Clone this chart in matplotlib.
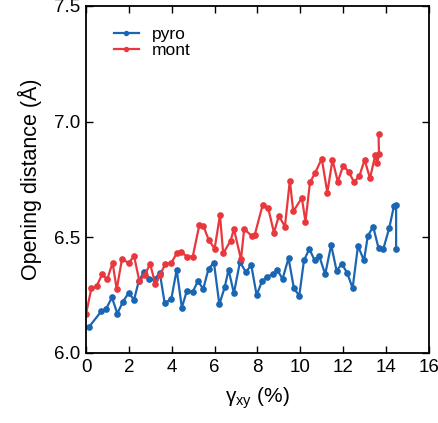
import matplotlib
matplotlib.use("Agg")
import matplotlib.pyplot as plt

plt.rcParams['font.family'] = ['Liberation Sans', 'DejaVu Sans']
plt.rcParams['mathtext.fontset'] = 'custom'
plt.rcParams['mathtext.rm'] = 'Liberation Sans'
plt.rcParams['mathtext.it'] = 'Liberation Sans:italic'

# Shear strain (%) and opening distance (Å) for each clay
pyro_strain = [0.15, 0.71, 0.93, 1.21, 1.46, 1.71, 1.99, 2.24, 2.46, 2.70,
               2.96, 3.20, 3.44, 3.67, 3.98, 4.23, 4.47, 4.71, 4.98, 5.22,
               5.47, 5.72, 5.97, 6.22, 6.47, 6.65, 6.90, 7.18, 7.46, 7.71,
               7.96, 8.21, 8.46, 8.71, 8.92, 9.17, 9.45, 9.70, 9.95, 10.17,
               10.42, 10.67, 10.88, 11.16, 11.44, 11.69, 11.94, 12.19, 12.44, 12.69,
               12.97, 13.15, 13.40, 13.65, 13.87, 14.15, 14.37, 14.47, 14.47]
pyro_open = [6.114, 6.18, 6.19, 6.24, 6.17, 6.22, 6.26, 6.23, 6.31, 6.35,
             6.318, 6.318, 6.347, 6.215, 6.234, 6.36, 6.196, 6.27, 6.265, 6.31,
             6.277, 6.365, 6.39, 6.21, 6.284, 6.36, 6.258, 6.393, 6.35, 6.38,
             6.25, 6.31, 6.33, 6.34, 6.36, 6.32, 6.41, 6.28, 6.247, 6.40,
             6.45, 6.40, 6.42, 6.34, 6.467, 6.356, 6.385, 6.345, 6.28, 6.463,
             6.40, 6.506, 6.546, 6.453, 6.449, 6.54, 6.636, 6.64, 6.45]

mont_strain = [0.0, 0.25, 0.50, 0.75, 0.99, 1.24, 1.43, 1.68, 1.99, 2.24,
               2.49, 2.74, 2.99, 3.23, 3.45, 3.70, 3.98, 4.23, 4.45, 4.72,
               4.98, 5.29, 5.47, 5.72, 6.00, 6.25, 6.40, 6.75, 6.90, 7.23,
               7.38, 7.73, 7.87, 8.24, 8.50, 8.77, 9.00, 9.28, 9.51, 9.67,
               10.07, 10.24, 10.45, 10.70, 11.00, 11.26, 11.50, 11.75, 12.00, 12.25,
               12.50, 12.75, 13.00, 13.25, 13.50, 13.59, 13.67, 13.65]
mont_open = [6.169, 6.28, 6.29, 6.34, 6.319, 6.39, 6.275, 6.408, 6.388, 6.42,
             6.31, 6.337, 6.385, 6.30, 6.337, 6.385, 6.39, 6.43, 6.435, 6.417,
             6.417, 6.554, 6.55, 6.49, 6.45, 6.596, 6.43, 6.486, 6.536, 6.405,
             6.536, 6.506, 6.51, 6.639, 6.626, 6.52, 6.593, 6.546, 6.745, 6.612,
             6.67, 6.568, 6.737, 6.78, 6.84, 6.693, 6.835, 6.74, 6.81, 6.784,
             6.74, 6.763, 6.835, 6.755, 6.856, 6.82, 6.862, 6.947]

x_ticks = [0, 2, 4, 6, 8, 10, 12, 14, 16]
y_ticks = [6.0, 6.5, 7.0, 7.5]

blue = '#1a66b3'
red = '#e8383d'

fig = plt.figure(figsize=(4.39, 4.23), dpi=100)
ax = fig.add_axes([0.196, 0.1655, 0.781, 0.8205])

ax.plot(pyro_strain, pyro_open, '-o', color=blue, lw=1.6, ms=3.8, label='pyro')
ax.plot(mont_strain, mont_open, '-o', color=red, lw=1.6, ms=3.8, label='mont')

ax.set_xlim(0, 16)
ax.set_ylim(6.0, 7.5)
ax.set_xticks(x_ticks)
ax.set_yticks(y_ticks)
ax.set_yticklabels([f'{v:.1f}' for v in y_ticks])
ax.tick_params(direction='in', top=True, right=True, length=5, width=1,
               labelsize=13.5, pad=4)
for s in ax.spines.values():
    s.set_linewidth(1.3)

ax.set_xlabel('γ$_{\\rm xy}$ (%)', fontsize=15, labelpad=7)
ax.set_ylabel('Opening distance (Å)', fontsize=15.5, labelpad=9)

leg = ax.legend(loc='upper left', bbox_to_anchor=(0.035, 0.985), frameon=False,
                fontsize=12.5, handlelength=1.45, handletextpad=0.75,
                labelspacing=0.05, markerscale=0.75)

fig.savefig('out.png', dpi=100)
